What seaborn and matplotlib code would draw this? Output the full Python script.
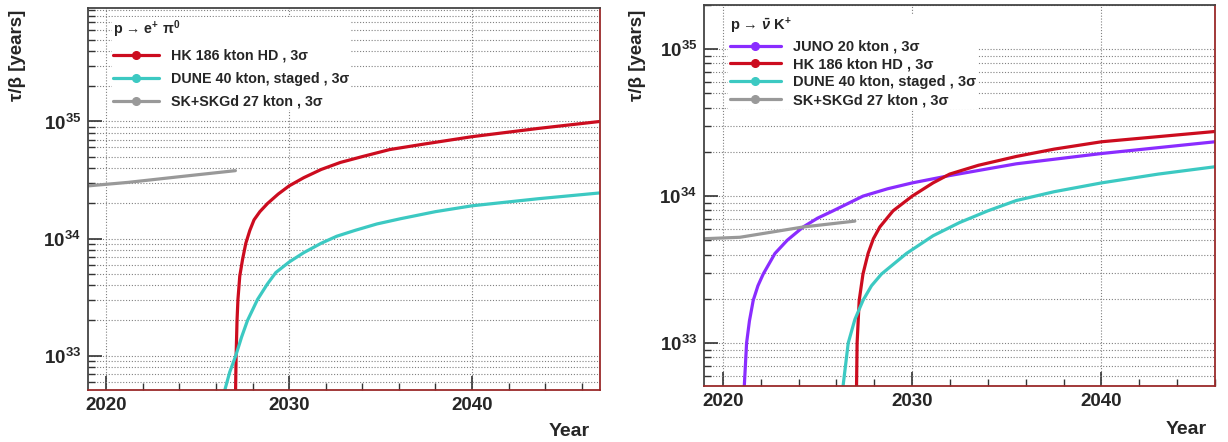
"""Proton decay sensitivity vs year, two channels side by side."""
import numpy as np
import pandas as pd
import matplotlib
matplotlib.use("Agg")
import matplotlib.pyplot as plt
from matplotlib.lines import Line2D
from matplotlib.ticker import LogLocator, FixedLocator, MultipleLocator, FuncFormatter, NullFormatter
import seaborn as sns

# values, lifetimes given as log10(tau/beta [years])
# ---- p -> e+ pi0 (left panel) ----
epi_hk_year = [2027.07, 2027.1, 2027.15, 2027.2, 2027.3, 2027.45, 2027.63, 2027.85, 2028.08,
               2028.4, 2028.82, 2029.4, 2030.0, 2030.8, 2031.75, 2032.8, 2034.0, 2035.5,
               2037.5, 2040.0, 2043.6, 2047.0]
epi_hk_log = [32.70, 33.0, 33.30, 33.48, 33.68, 33.82, 33.96, 34.07, 34.16,
              34.23, 34.30, 34.38, 34.45, 34.52, 34.59, 34.65, 34.70, 34.76,
              34.81, 34.87, 34.94, 35.0]
epi_dune_year = [2026.47, 2026.75, 2027.08, 2027.4, 2027.72, 2028.27, 2028.8, 2029.27,
                 2030.0, 2030.8, 2031.75, 2032.6, 2033.6, 2034.8, 2036.1, 2038.0, 2040.0,
                 2043.6, 2047.0]
epi_dune_log = [32.70, 32.86, 33.0, 33.16, 33.30, 33.48, 33.61, 33.71,
                33.80, 33.88, 33.96, 34.02, 34.07, 34.125, 34.17, 34.23, 34.28,
                34.34, 34.39]
epi_sk_year = [2019.0, 2021.2, 2024.1, 2027.06]
epi_sk_log = [34.45, 34.48, 34.53, 34.58]

# ---- p -> nubar K+ (right panel) ----
nuk_juno_year = [2021.13, 2021.25, 2021.4, 2021.6, 2021.85, 2022.13, 2022.75, 2023.4,
                 2024.24, 2025.0, 2025.82, 2027.4, 2028.7, 2030.0, 2031.98, 2035.5,
                 2040.0, 2046.0]
nuk_juno_log = [32.71, 33.0, 33.15, 33.29, 33.39, 33.47, 33.61, 33.70,
                33.79, 33.85, 33.90, 34.0, 34.05, 34.09, 34.14, 34.22,
                34.29, 34.37]
nuk_hk_year = [2027.06, 2027.09, 2027.2, 2027.4, 2027.67, 2027.95, 2028.29, 2028.99,
               2030.0, 2031.1, 2031.98, 2033.5, 2035.5, 2037.5, 2040.0, 2046.0]
nuk_hk_log = [32.71, 33.0, 33.29, 33.47, 33.61, 33.71, 33.79, 33.90,
              34.0, 34.09, 34.15, 34.21, 34.27, 34.32, 34.37, 34.44]
nuk_dune_year = [2026.35, 2026.62, 2026.97, 2027.4, 2027.85, 2028.38, 2029.7, 2031.1,
                 2032.5, 2034.0, 2035.5, 2037.5, 2040.0, 2043.0, 2046.0]
nuk_dune_log = [32.71, 33.0, 33.16, 33.29, 33.39, 33.47, 33.61, 33.73,
                33.82, 33.90, 33.97, 34.03, 34.09, 34.15, 34.20]
nuk_sk_year = [2019.0, 2020.9, 2024.24, 2026.97]
nuk_sk_log = [33.71, 33.72, 33.79, 33.83]

LABELS = {
    "JUNO": "JUNO 20 kton , 3σ",
    "HK": "HK 186 kton HD , 3σ",
    "DUNE": "DUNE 40 kton, staged , 3σ",
    "SK": "SK+SKGd 27 kton , 3σ",
}
COLORS = {"JUNO": "#8a2cff", "HK": "#cc0c1f", "DUNE": "#3cc9c2", "SK": "#999999"}

sns.set_style("ticks")
plt.rcParams["font.family"] = ["Liberation Sans", "DejaVu Sans"]
plt.rcParams["font.weight"] = "bold"
plt.rcParams["mathtext.fontset"] = "custom"
plt.rcParams["mathtext.rm"] = "Liberation Sans:bold"
plt.rcParams["mathtext.bf"] = "Liberation Sans:bold"
plt.rcParams["mathtext.it"] = "Liberation Sans:italic:bold"


def long_frame(series):
    rows = []
    for name, years, logs in series:
        for y, l in zip(years, logs):
            rows.append(dict(detector=name, year=y, tau=10.0 ** l))
    return pd.DataFrame(rows)


def style_axis(ax, xlim, ylim):
    ax.set_yscale("log")
    ax.set_xlim(*xlim)
    ax.set_ylim(*ylim)
    ax.xaxis.set_major_locator(FixedLocator([2020, 2030, 2040]))
    ax.xaxis.set_minor_locator(MultipleLocator(2))
    ax.yaxis.set_major_locator(LogLocator(base=10, numticks=10))
    ax.yaxis.set_minor_locator(LogLocator(base=10, subs=np.arange(2, 10), numticks=20))
    ax.yaxis.set_major_formatter(FuncFormatter(lambda v, p: r"$\mathbf{10^{%d}}$" % round(np.log10(v))))
    ax.yaxis.set_minor_formatter(NullFormatter())
    ax.tick_params(axis="both", which="both", direction="in", top=False, right=False,
                   labelsize=13.5, pad=5)
    ax.tick_params(axis="both", which="major", length=10, width=1.2, color="#333333")
    ax.tick_params(axis="both", which="minor", length=5, width=1.0, color="#333333")
    for lab in ax.get_xticklabels():
        lab.set_fontweight("bold")
    ax.grid(True, which="major", axis="x", color="#808080", linestyle=(0, (1, 1.6)), linewidth=0.8)
    ax.grid(True, which="both", axis="y", color="#808080", linestyle=(0, (1, 1.6)), linewidth=0.8)
    ax.spines["left"].set_color("#444444")
    ax.spines["top"].set_color("#444444")
    ax.spines["right"].set_color("#9a2a2a")
    ax.spines["bottom"].set_color("#9a2a2a")
    for s in ax.spines.values():
        s.set_linewidth(1.3)
    ax.set_xlabel("")
    ax.set_ylabel("")


def draw_panel(ax, series, order, title, fontsize, spacing, anchor, hlen):
    df = long_frame(series)
    sns.lineplot(data=df, x="year", y="tau", hue="detector", palette=COLORS,
                 estimator=None, sort=False, linewidth=2.3, legend=False, ax=ax)
    handles = [Line2D([], [], color=COLORS[k], lw=2.3, marker="o", markersize=5.5) for k in order]
    leg = ax.legend(handles, [LABELS[k] for k in order], title=title, loc="upper left",
                    bbox_to_anchor=anchor, frameon=True, framealpha=1.0, edgecolor="white",
                    fancybox=False, fontsize=fontsize, title_fontsize=fontsize,
                    handlelength=hlen, handletextpad=0.85, labelspacing=spacing,
                    borderpad=0.1, alignment="left")
    leg.get_frame().set_linewidth(0)
    for t in leg.get_texts():
        t.set_fontweight("bold")
    leg.get_title().set_fontweight("bold")


fig = plt.figure(figsize=(12.28, 4.42), dpi=100)
ax1 = fig.add_axes([88 / 1228, 1 - 390 / 442, 512 / 1228, 382 / 442])
ax2 = fig.add_axes([704 / 1228, 1 - 386 / 442, 511 / 1228, 381 / 442])

draw_panel(ax1,
           [("HK", epi_hk_year, epi_hk_log), ("DUNE", epi_dune_year, epi_dune_log),
            ("SK", epi_sk_year, epi_sk_log)],
           ["HK", "DUNE", "SK"], r"p → e$^{+}$ π$^{0}$", 10.3, 0.62,
           (0.033, 0.995), 3.2)
style_axis(ax1, (2019, 2047), (5.1e32, 9.3e35))

draw_panel(ax2,
           [("JUNO", nuk_juno_year, nuk_juno_log), ("HK", nuk_hk_year, nuk_hk_log),
            ("DUNE", nuk_dune_year, nuk_dune_log), ("SK", nuk_sk_year, nuk_sk_log)],
           ["JUNO", "HK", "DUNE", "SK"], r"p → $\bar{\nu}$ K$^{+}$", 10.5, 0.26,
           (0.033, 0.995), 3.5)
style_axis(ax2, (2019, 2046), (5.1e32, 2.0e35))

for x in (18, 637):
    fig.text(x / 1228, 1 - 10 / 442, "τ/β [years]", rotation=90, ha="center", va="top",
             fontsize=13.5, fontweight="bold")
fig.text(569 / 1228, 1 - 432 / 442, "Year", ha="center", va="center", fontsize=14, fontweight="bold")
fig.text(1186 / 1228, 1 - 429 / 442, "Year", ha="center", va="center", fontsize=14, fontweight="bold")

fig.savefig("out.png", dpi=100)
